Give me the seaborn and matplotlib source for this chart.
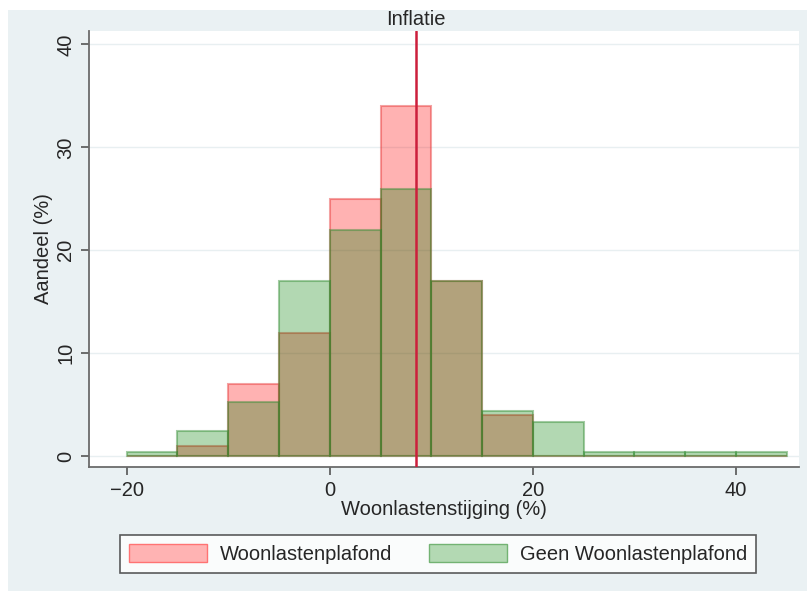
import numpy as np
import matplotlib
matplotlib.use("Agg")
import matplotlib.pyplot as plt
import seaborn as sns
from matplotlib.patches import Rectangle, Patch

# bin edges (width 5) and shares (%) per group
bin_edges = [-20, -15, -10, -5, 0, 5, 10, 15, 20, 25, 30, 35, 40, 45]
plafond = [0, 1.0, 7.0, 12.0, 25.0, 34.0, 17.0, 4.0, 0, 0, 0, 0, 0]
geen_plafond = [0.4, 2.4, 5.3, 17.0, 22.0, 26.0, 17.0, 4.4, 3.3, 0.4, 0.4, 0.4, 0.4]
inflatie = 8.5

bin_left = np.array(bin_edges[:-1])

sns.set_style("white")
plt.rcParams['font.family'] = ['Liberation Sans', 'DejaVu Sans']
fs = 14.5

fig = plt.figure(figsize=(8.07, 5.91), dpi=100, facecolor="white")
bg = "#eaf1f3"
fig.patches.append(Rectangle((8 / 807, 0), 1, 1 - 10 / 591, transform=fig.transFigure,
                             facecolor=bg, edgecolor="none", zorder=-10))
ax = fig.add_axes([89 / 807, (591 - 467) / 591, (799 - 89) / 807, (467 - 31) / 591])
ax.set_facecolor("white")

sns.histplot(x=bin_left, weights=plafond, bins=bin_edges, ax=ax,
             color=(1, 0, 0), alpha=0.3, edgecolor=(0.9, 0.2, 0.2, 0.45), linewidth=1.5)
sns.histplot(x=bin_left, weights=geen_plafond, bins=bin_edges, ax=ax,
             color=(0, 0.5, 0), alpha=0.3, edgecolor=(0.2, 0.55, 0.2, 0.45), linewidth=1.5)

ax.axvline(inflatie, color="#cc1f3c", linewidth=1.8, zorder=5)

ax.set_xlim(-23.7, 46.2)
ax.set_ylim(-1.05, 41.3)
ax.set_xticks([-20, 0, 20, 40])
ax.set_yticks([0, 10, 20, 30, 40])
ax.yaxis.grid(True, color="#e8eff1", linewidth=1)
ax.set_axisbelow(True)
for s in ["top", "right"]:
    ax.spines[s].set_visible(False)
for s in ["left", "bottom"]:
    ax.spines[s].set_color("#6b6b6b")
    ax.spines[s].set_linewidth(1.3)
ax.tick_params(axis="both", which="both", direction="out", length=6, width=1.2,
               color="#555555", labelsize=fs, left=True, bottom=True, pad=4)
plt.setp(ax.get_yticklabels(), rotation=90, va="center")
ax.set_xlabel("Woonlastenstijging (%)", fontsize=fs, labelpad=0)
ax.set_ylabel("Aandeel (%)", fontsize=fs, labelpad=2)

ax.text(inflatie, 41.5, "Inflatie", ha="center", va="bottom", fontsize=fs,
        transform=ax.transData, clip_on=False)

handles = [Patch(facecolor=(1, 0.7, 0.7), edgecolor=(1, 0.45, 0.45)),
           Patch(facecolor=(0.7, 0.85, 0.7), edgecolor=(0.45, 0.7, 0.45))]
leg = fig.legend(handles, ["Woonlastenplafond", "Geen Woonlastenplafond"],
                 loc="center left", bbox_to_anchor=(120 / 807, 1 - 554 / 591), ncol=2,
                 fontsize=fs, frameon=True, fancybox=False, handlelength=3.85,
                 handleheight=0.95, columnspacing=1.85, borderpad=0.45,
                 handletextpad=0.65, borderaxespad=0)
leg.get_frame().set_edgecolor("#333333")
leg.get_frame().set_linewidth(1.2)

fig.savefig("out.png", dpi=100, facecolor=fig.get_facecolor())
